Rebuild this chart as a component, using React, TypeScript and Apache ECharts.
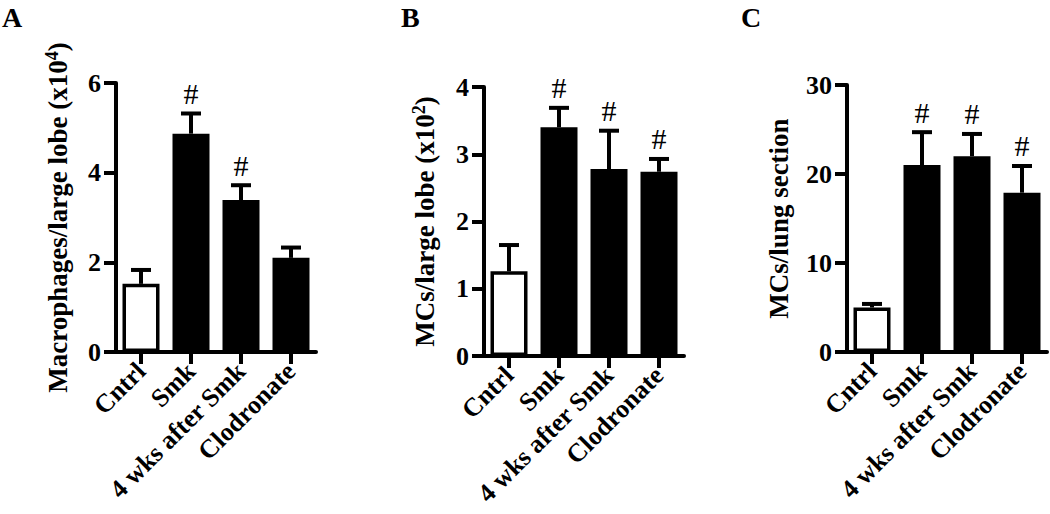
import React, { useEffect, useRef } from "react";
import * as echarts from "echarts";

const categories = ["Cntrl", "Smk", "4 wks after Smk", "Clodronate"];

const macroMean = [1.52, 4.87, 3.39, 2.1];
const macroSem = [0.31, 0.45, 0.33, 0.23];
const macroSig = [false, true, true, false];

const mcLobeMean = [1.26, 3.4, 2.78, 2.74];
const mcLobeSem = [0.39, 0.29, 0.57, 0.19];
const mcLobeSig = [false, true, true, true];

const mcSectionMean = [5.0, 21.0, 22.0, 17.9];
const mcSectionSem = [0.4, 3.7, 2.5, 3.0];
const mcSectionSig = [false, true, true, true];

const FONT = "'Liberation Serif', 'Times New Roman', serif";

const panels = [
  { letter: "A", name: "Macrophages/large lobe (x10{sup|4})", max: 6, interval: 2, mean: macroMean, sem: macroSem, sig: macroSig, grid: { left: 116, top: 83, width: 200, height: 269 }, nameGap: 43, letterX: 2 },
  { letter: "B", name: "MCs/large lobe (x10{sup|2})", max: 4, interval: 1, mean: mcLobeMean, sem: mcLobeSem, sig: mcLobeSig, grid: { left: 484, top: 87, width: 200, height: 269 }, nameGap: 44, letterX: 401 },
  { letter: "C", name: "MCs/lung section", max: 30, interval: 10, mean: mcSectionMean, sem: mcSectionSem, sig: mcSectionSig, grid: { left: 847, top: 85, width: 200, height: 267 }, nameGap: 55, letterX: 741 },
];

export default function App() {
  const ref = useRef<HTMLDivElement>(null);
  useEffect(() => {
    if (!ref.current) return;
    const chart = echarts.init(ref.current, null, { renderer: "svg" });
    const grids: any[] = [];
    const xAxes: any[] = [];
    const yAxes: any[] = [];
    const series: any[] = [];
    const graphics: any[] = [];
    panels.forEach((p, i) => {
      grids.push({ ...p.grid, containLabel: false });
      xAxes.push({
        type: "category",
        gridIndex: i,
        data: categories,
        axisLine: { lineStyle: { color: "#000", width: 4 } },
        axisTick: { show: true, alignWithLabel: true, length: 12, lineStyle: { color: "#000", width: 4 } },
        axisLabel: { rotate: 45, margin: 15, color: "#000", fontFamily: FONT, fontWeight: "bold", fontSize: 26, interval: 0 },
      });
      yAxes.push({
        type: "value",
        gridIndex: i,
        min: 0,
        max: p.max,
        interval: p.interval,
        name: p.name,
        nameLocation: "middle",
        nameGap: p.nameGap,
        nameTextStyle: {
          color: "#000", fontFamily: FONT, fontWeight: "bold", fontSize: 27,
          rich: { sup: { fontSize: 18, fontFamily: FONT, fontWeight: "bold", color: "#000", verticalAlign: "top", lineHeight: 30 } },
        },
        splitLine: { show: false },
        axisLine: { show: true, lineStyle: { color: "#000", width: 4 } },
        axisTick: { show: true, length: 12, lineStyle: { color: "#000", width: 4 } },
        axisLabel: { margin: 15, color: "#000", fontFamily: FONT, fontWeight: "bold", fontSize: 26 },
      });
      series.push({
        type: "bar",
        xAxisIndex: i,
        yAxisIndex: i,
        barWidth: 37,
        data: p.mean.map((v, k) => ({
          value: v,
          itemStyle: { color: k === 0 ? "#fff" : "#000", borderColor: "#000", borderWidth: 3.5 },
        })),
        z: 2,
      });
      series.push({
        type: "custom",
        xAxisIndex: i,
        yAxisIndex: i,
        data: p.mean.map((v, k) => [k, v, v + p.sem[k], p.sig[k] ? 1 : 0]),
        encode: { x: 0, y: [1, 2] },
        z: 3,
        renderItem: (params: any, api: any) => {
          const base = api.coord([api.value(0), api.value(1)]);
          const top = api.coord([api.value(0), api.value(2)]);
          const children: any[] = [
            { type: "line", shape: { x1: base[0], y1: base[1], x2: top[0], y2: top[1] }, style: { stroke: "#000", lineWidth: 4 } },
            { type: "line", shape: { x1: top[0] - 10, y1: top[1], x2: top[0] + 10, y2: top[1] }, style: { stroke: "#000", lineWidth: 4 } },
          ];
          if (api.value(3) === 1) {
            children.push({
              type: "text",
              x: top[0],
              y: top[1] - 5,
              style: { text: "#", fill: "#000", font: `normal 30px ${FONT}`, align: "center", verticalAlign: "bottom" },
            });
          }
          return { type: "group", children };
        },
      });
      graphics.push({
        type: "text",
        left: p.letterX,
        top: 3,
        style: { text: p.letter, fill: "#000", font: `bold 28px ${FONT}` },
      });
    });
    chart.setOption({
      animation: false,
      backgroundColor: "#fff",
      grid: grids,
      xAxis: xAxes,
      yAxis: yAxes,
      series,
      graphic: graphics,
    });
    return () => chart.dispose();
  }, []);
  return <div ref={ref} style={{ position: "fixed", left: 0, top: 0, width: 1050, height: 514 }} />;
}
